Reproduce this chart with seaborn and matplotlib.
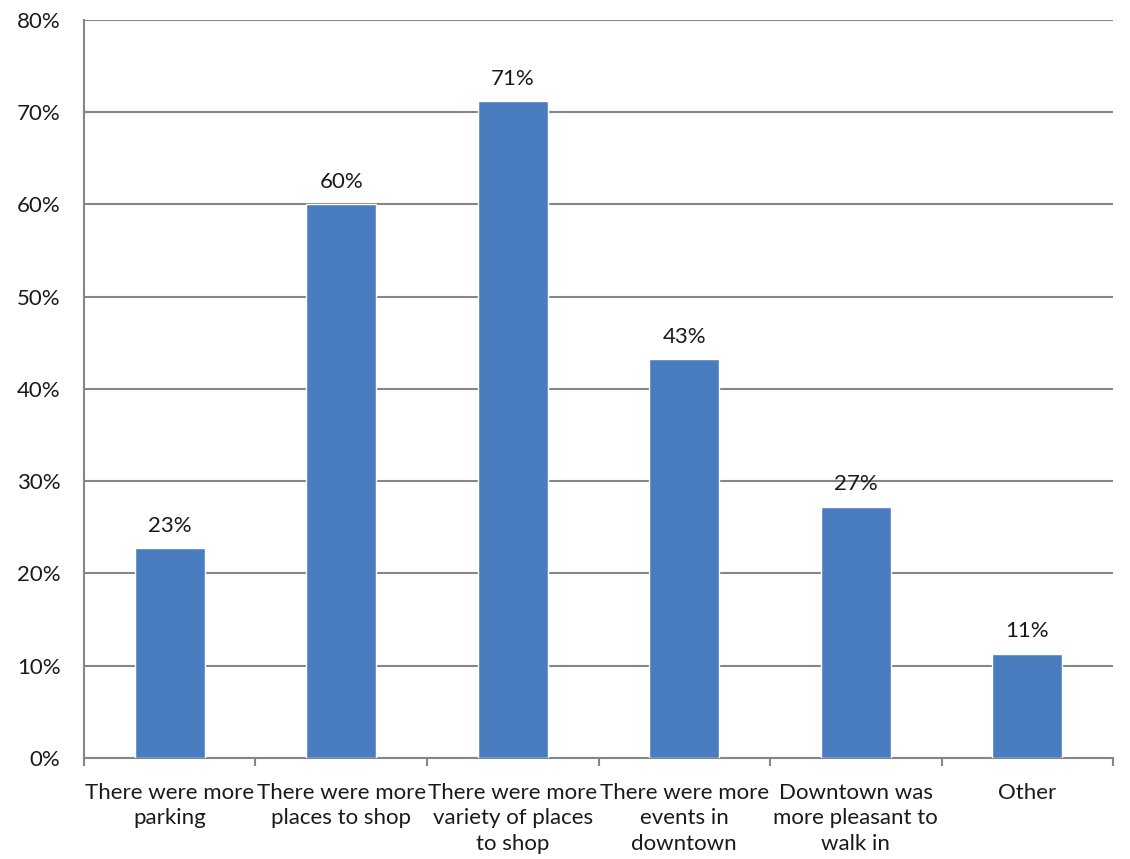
import matplotlib
matplotlib.use("Agg")
import matplotlib.pyplot as plt
from matplotlib.ticker import PercentFormatter, FixedLocator
import pandas as pd
import seaborn as sns

categories = [
    "There were more\nparking",
    "There were more\nplaces to shop",
    "There were more\nvariety of places\nto shop",
    "There were more\nevents in\ndowntown",
    "Downtown was\nmore pleasant to\nwalk in",
    "Other",
]
shares = [0.227, 0.600, 0.712, 0.432, 0.272, 0.113]
yticks = [0.0, 0.1, 0.2, 0.3, 0.4, 0.5, 0.6, 0.7, 0.8]

df = pd.DataFrame({"reason": categories, "share": shares})

sns.set_theme(style="white")
plt.rcParams["font.family"] = ["Lato", "DejaVu Sans"]

GRID = "#868686"
BAR = "#4a7dc0"
TXT = "#1a1a1a"

fig = plt.figure(figsize=(11.3, 8.59), dpi=100)
ax = fig.add_axes([0.0743, 0.1179, 0.9107, 0.8588])

sns.barplot(df, x="reason", y="share", color=BAR, saturation=1,
            width=0.41, ax=ax, zorder=3)

ax.set_ylim(0, 0.8)
ax.set_xlim(-0.5, len(categories) - 0.5)
ax.set_yticks(yticks)
ax.yaxis.set_major_formatter(PercentFormatter(1.0, decimals=0))
ax.grid(axis="y", color=GRID, linewidth=1.5, zorder=0)
ax.set_xlabel("")
ax.set_ylabel("")

for s in ["top", "right"]:
    ax.spines[s].set_visible(False)
for s in ["left", "bottom"]:
    ax.spines[s].set_color(GRID)
    ax.spines[s].set_linewidth(1.5)

ax.tick_params(axis="y", length=7, width=1.5, color=GRID, labelsize=16,
               labelcolor=TXT, pad=10)
ax.tick_params(axis="x", which="major", length=0, labelsize=16,
               labelcolor=TXT, pad=18)
ax.xaxis.set_minor_locator(FixedLocator([i - 0.5 for i in range(len(categories) + 1)]))
ax.tick_params(axis="x", which="minor", length=6, width=1.5, color=GRID,
               direction="out", bottom=True)
for lbl in ax.get_xticklabels():
    lbl.set_linespacing(1.35)

ax.bar_label(ax.containers[0], labels=[f"{v:.0%}" for v in shares],
             padding=9, fontsize=16, color=TXT)

fig.savefig("out.png", dpi=100)
